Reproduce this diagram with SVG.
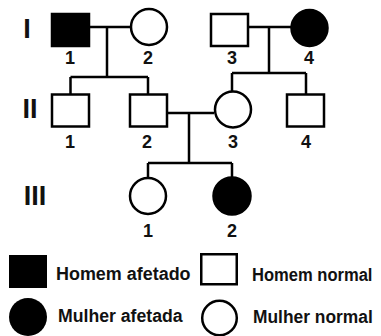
<svg xmlns="http://www.w3.org/2000/svg" width="381" height="336" viewBox="0 0 381 336">
<style>
.s{fill:#fff;stroke:#000;stroke-width:2.5}
.a{fill:#000;stroke:#000;stroke-width:2.5}
.c{fill:none;stroke:#000;stroke-width:2.5}
text{font-family:"Liberation Sans",Arial,sans-serif;font-weight:bold;fill:#111}
.n{font-size:18px;text-anchor:middle}
.r{font-size:27px;text-anchor:middle}
.l{font-size:18.5px}
</style>
<rect width="381" height="336" fill="#fff"/>
<g id="connectors">
<path class="c" d="M90 27H131M107 27V77M70.5 77H148M70.5 77V94M148 77V94"/>
<path class="c" d="M249 27H291M269 27V73M232 73H306M232 73V91M306 73V94"/>
<path class="c" d="M167 113H214M189 113V163M148 163H232M148 163V177M232 163V177"/>
</g>
<g id="gen-labels">
<text class="r" x="27" y="38">I</text>
<text class="r" x="30" y="118">II</text>
<text class="r" x="35" y="205">III</text>
</g>
<g id="I-1"><rect class="a" x="52" y="14" width="37" height="32"/><text class="n" x="70" y="64">1</text></g>
<g id="I-2"><circle class="s" cx="149" cy="27" r="18"/><text class="n" x="148" y="64">2</text></g>
<g id="I-3"><rect class="s" x="211" y="14" width="37" height="32"/><text class="n" x="232" y="64">3</text></g>
<g id="I-4"><circle class="a" cx="309.5" cy="28" r="18"/><text class="n" x="309" y="64">4</text></g>
<g id="II-1"><rect class="s" x="52" y="94.5" width="37" height="32"/><text class="n" x="70" y="148">1</text></g>
<g id="II-2"><rect class="s" x="130" y="94.5" width="37" height="32"/><text class="n" x="147" y="148">2</text></g>
<g id="II-3"><circle class="s" cx="233" cy="109.5" r="18"/><text class="n" x="233" y="148">3</text></g>
<g id="II-4"><rect class="s" x="287" y="94.5" width="37" height="32"/><text class="n" x="306" y="148">4</text></g>
<g id="III-1"><circle class="s" cx="148" cy="196" r="18"/><text class="n" x="148" y="237">1</text></g>
<g id="III-2"><circle class="a" cx="232" cy="196" r="18.5"/><text class="n" x="232" y="237">2</text></g>
<g id="legend">
<rect x="9" y="255" width="38" height="33" fill="#000"/>
<text class="l" transform="translate(56 280) scale(0.97 1)">Homem afetado</text>
<rect class="s" x="201.25" y="254.25" width="35.5" height="30"/>
<text class="l" transform="translate(252 280.5) scale(0.895 1)">Homem normal</text>
<circle cx="28" cy="317" r="19" fill="#000"/>
<text class="l" transform="translate(58 321.5) scale(0.955 1)">Mulher afetada</text>
<circle class="s" cx="219.5" cy="318" r="17.3"/>
<text class="l" transform="translate(253 323) scale(0.94 1)">Mulher normal</text>
</g>
</svg>
